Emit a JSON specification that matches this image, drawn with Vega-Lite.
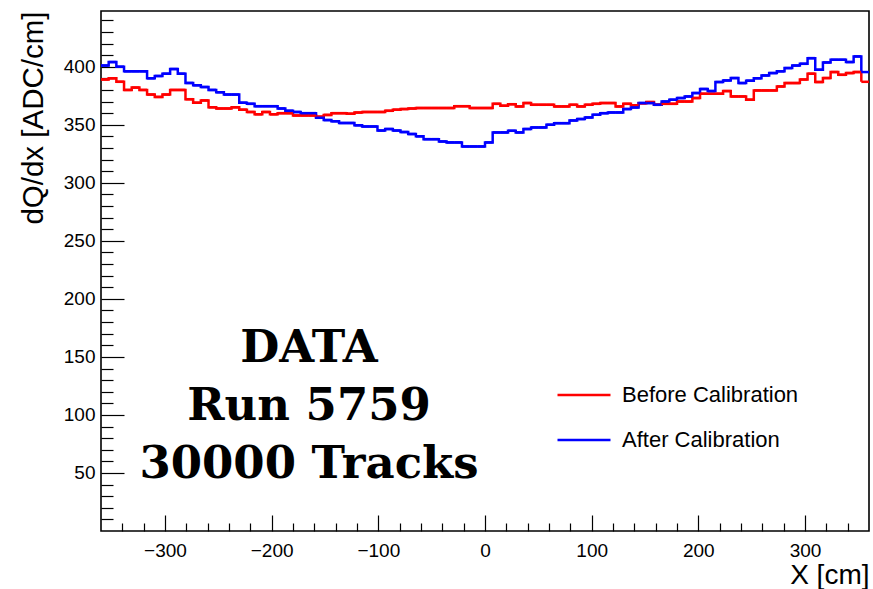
{
  "$schema": "https://vega.github.io/schema/vega-lite/v6.json",
  "width": 768,
  "height": 520,
  "autosize": {"type": "none"},
  "padding": {"left": 101, "top": 11, "right": 4, "bottom": 58},
  "background": "#ffffff",
  "data": {
    "values": [
      {"lo": -360, "hi": -352.8, "before": 389, "after": 401},
      {"lo": -352.8, "hi": -345.6, "before": 390, "after": 404},
      {"lo": -345.6, "hi": -338.4, "before": 387, "after": 400},
      {"lo": -338.4, "hi": -331.2, "before": 380, "after": 396},
      {"lo": -331.2, "hi": -324, "before": 382, "after": 396},
      {"lo": -324, "hi": -316.8, "before": 380, "after": 396},
      {"lo": -316.8, "hi": -309.6, "before": 376, "after": 390},
      {"lo": -309.6, "hi": -302.4, "before": 374, "after": 392},
      {"lo": -302.4, "hi": -295.2, "before": 376, "after": 394},
      {"lo": -295.2, "hi": -288, "before": 380, "after": 398},
      {"lo": -288, "hi": -280.8, "before": 380, "after": 394},
      {"lo": -280.8, "hi": -273.6, "before": 372, "after": 386},
      {"lo": -273.6, "hi": -266.4, "before": 369, "after": 384},
      {"lo": -266.4, "hi": -259.2, "before": 371, "after": 382.5},
      {"lo": -259.2, "hi": -252, "before": 365, "after": 380},
      {"lo": -252, "hi": -244.8, "before": 364, "after": 378},
      {"lo": -244.8, "hi": -237.6, "before": 364, "after": 376},
      {"lo": -237.6, "hi": -230.4, "before": 365, "after": 376},
      {"lo": -230.4, "hi": -223.2, "before": 363, "after": 369},
      {"lo": -223.2, "hi": -216, "before": 361, "after": 368},
      {"lo": -216, "hi": -208.8, "before": 359, "after": 366},
      {"lo": -208.8, "hi": -201.6, "before": 361, "after": 366},
      {"lo": -201.6, "hi": -194.4, "before": 359, "after": 366},
      {"lo": -194.4, "hi": -187.2, "before": 360, "after": 364},
      {"lo": -187.2, "hi": -180, "before": 360, "after": 362},
      {"lo": -180, "hi": -172.8, "before": 358, "after": 361},
      {"lo": -172.8, "hi": -165.6, "before": 358, "after": 360},
      {"lo": -165.6, "hi": -158.4, "before": 358, "after": 360},
      {"lo": -158.4, "hi": -151.2, "before": 357, "after": 356},
      {"lo": -151.2, "hi": -144, "before": 358.5, "after": 354},
      {"lo": -144, "hi": -136.8, "before": 360, "after": 353},
      {"lo": -136.8, "hi": -129.6, "before": 360, "after": 351.5},
      {"lo": -129.6, "hi": -122.4, "before": 359.5, "after": 351.5},
      {"lo": -122.4, "hi": -115.2, "before": 360.5, "after": 349.5},
      {"lo": -115.2, "hi": -108, "before": 361, "after": 348.5},
      {"lo": -108, "hi": -100.8, "before": 361, "after": 348.5},
      {"lo": -100.8, "hi": -93.6, "before": 361, "after": 345},
      {"lo": -93.6, "hi": -86.4, "before": 362, "after": 346.3},
      {"lo": -86.4, "hi": -79.2, "before": 363, "after": 345},
      {"lo": -79.2, "hi": -72, "before": 363.5, "after": 343.7},
      {"lo": -72, "hi": -64.8, "before": 364, "after": 342},
      {"lo": -64.8, "hi": -57.6, "before": 364.4, "after": 340},
      {"lo": -57.6, "hi": -50.4, "before": 364.4, "after": 337.6},
      {"lo": -50.4, "hi": -43.2, "before": 364.4, "after": 337.6},
      {"lo": -43.2, "hi": -36, "before": 364.4, "after": 335.6},
      {"lo": -36, "hi": -28.8, "before": 364.4, "after": 334.8},
      {"lo": -28.8, "hi": -21.6, "before": 366, "after": 334.8},
      {"lo": -21.6, "hi": -14.4, "before": 366, "after": 331.3},
      {"lo": -14.4, "hi": -7.2, "before": 364.4, "after": 331.3},
      {"lo": -7.2, "hi": 0, "before": 364.4, "after": 331.3},
      {"lo": 0, "hi": 7.2, "before": 364.4, "after": 334.8},
      {"lo": 7.2, "hi": 14.4, "before": 368, "after": 343.4},
      {"lo": 14.4, "hi": 21.6, "before": 366.4, "after": 343.4},
      {"lo": 21.6, "hi": 28.8, "before": 367.7, "after": 344.8},
      {"lo": 28.8, "hi": 36, "before": 365.8, "after": 343.4},
      {"lo": 36, "hi": 43.2, "before": 368.7, "after": 346.3},
      {"lo": 43.2, "hi": 50.4, "before": 367.2, "after": 347.7},
      {"lo": 50.4, "hi": 57.6, "before": 367.2, "after": 347.7},
      {"lo": 57.6, "hi": 64.8, "before": 367.2, "after": 350},
      {"lo": 64.8, "hi": 72, "before": 365.8, "after": 351.4},
      {"lo": 72, "hi": 79.2, "before": 365.8, "after": 351.4},
      {"lo": 79.2, "hi": 86.4, "before": 367.2, "after": 353.7},
      {"lo": 86.4, "hi": 93.6, "before": 365.8, "after": 354.9},
      {"lo": 93.6, "hi": 100.8, "before": 367.2, "after": 356.3},
      {"lo": 100.8, "hi": 108, "before": 368, "after": 358.6},
      {"lo": 108, "hi": 115.2, "before": 368.7, "after": 360},
      {"lo": 115.2, "hi": 122.4, "before": 368.7, "after": 360.6},
      {"lo": 122.4, "hi": 129.6, "before": 365.8, "after": 360.6},
      {"lo": 129.6, "hi": 136.8, "before": 368, "after": 363.5},
      {"lo": 136.8, "hi": 144, "before": 366.7, "after": 364.9},
      {"lo": 144, "hi": 151.2, "before": 368.5, "after": 368.7},
      {"lo": 151.2, "hi": 158.4, "before": 369.5, "after": 368.7},
      {"lo": 158.4, "hi": 165.6, "before": 367.2, "after": 367.2},
      {"lo": 165.6, "hi": 172.8, "before": 368, "after": 370},
      {"lo": 172.8, "hi": 180, "before": 368, "after": 371.6},
      {"lo": 180, "hi": 187.2, "before": 370, "after": 373},
      {"lo": 187.2, "hi": 194.4, "before": 370, "after": 374.4},
      {"lo": 194.4, "hi": 201.6, "before": 373, "after": 377.3},
      {"lo": 201.6, "hi": 208.8, "before": 376.7, "after": 380.8},
      {"lo": 208.8, "hi": 216, "before": 376.7, "after": 379},
      {"lo": 216, "hi": 223.2, "before": 376.7, "after": 386.8},
      {"lo": 223.2, "hi": 230.4, "before": 379, "after": 388.2},
      {"lo": 230.4, "hi": 237.6, "before": 374.4, "after": 390.2},
      {"lo": 237.6, "hi": 244.8, "before": 374.4, "after": 385.9},
      {"lo": 244.8, "hi": 252, "before": 371.6, "after": 388},
      {"lo": 252, "hi": 259.2, "before": 379.6, "after": 390},
      {"lo": 259.2, "hi": 266.4, "before": 379.6, "after": 392.5},
      {"lo": 266.4, "hi": 273.6, "before": 379.6, "after": 394.5},
      {"lo": 273.6, "hi": 280.8, "before": 383, "after": 396},
      {"lo": 280.8, "hi": 288, "before": 385.9, "after": 398.8},
      {"lo": 288, "hi": 295.2, "before": 385.9, "after": 401},
      {"lo": 295.2, "hi": 302.4, "before": 389, "after": 402.5},
      {"lo": 302.4, "hi": 309.6, "before": 394, "after": 407.4},
      {"lo": 309.6, "hi": 316.8, "before": 386.8, "after": 397.4},
      {"lo": 316.8, "hi": 324, "before": 390.2, "after": 403.7},
      {"lo": 324, "hi": 331.2, "before": 395.4, "after": 406},
      {"lo": 331.2, "hi": 338.4, "before": 393, "after": 406},
      {"lo": 338.4, "hi": 345.6, "before": 394.5, "after": 404},
      {"lo": 345.6, "hi": 352.8, "before": 395.4, "after": 408.9},
      {"lo": 352.8, "hi": 360, "before": 387, "after": 395.4}
    ]
  },
  "transform": [{"fold": ["before", "after"], "as": ["series", "dqdx"]}],
  "layer": [
    {
      "mark": {"type": "line", "interpolate": "step-after", "strokeWidth": 2.5},
      "encoding": {
        "x": {
          "field": "lo", "type": "quantitative",
          "scale": {"domain": [-360, 360], "nice": false, "zero": false},
          "axis": {
            "orient": "bottom",
            "values": [-300, -200, -100, 0, 100, 200, 300],
            "tickSize": -16,
            "labelPadding": 26,
            "title": "X [cm]",
            "titleAnchor": null,
            "titleAlign": "right",
            "titleBaseline": "alphabetic",
            "titleX": 768,
            "titleY": 52,
            "titleFontSize": 28
          }
        },
        "y": {
          "field": "dqdx", "type": "quantitative",
          "scale": {"domain": [0, 448], "nice": false},
          "axis": {
            "orient": "left",
            "values": [50, 100, 150, 200, 250, 300, 350, 400],
            "tickSize": -23,
            "labelPadding": 29,
            "title": "dQ/dx [ADC/cm]",
            "titleAnchor": null,
            "titleAngle": -90,
            "titleAlign": "right",
            "titleBaseline": "alphabetic",
            "titleX": -59,
            "titleY": 0,
            "titleFontSize": 29.5
          }
        },
        "color": {
          "field": "series", "type": "nominal",
          "scale": {"domain": ["before", "after"], "range": ["#ff0000", "#0000ff"]},
          "legend": {
            "orient": "none",
            "legendX": 455,
            "legendY": 356,
            "title": null,
            "symbolType": "stroke",
            "symbolSize": 2809,
            "symbolStrokeWidth": 2.5,
            "labelOffset": 10,
            "labelFontSize": 22,
            "labelFont": "Liberation Sans",
            "labelColor": "#000",
            "labelLimit": 400,
            "rowPadding": 6,
            "labelExpr": "datum.label == 'before' ? 'Before Calibration' : 'After Calibration'"
          }
        }
      }
    },
    {
      "mark": {"type": "rule", "strokeWidth": 2.5},
      "encoding": {
        "x": {
          "field": "lo", "type": "quantitative",
          "axis": {
            "orient": "bottom",
            "values": [-340, -320, -280, -260, -240, -220, -180, -160, -140, -120, -80, -60, -40, -20, 20, 40, 60, 80, 120, 140, 160, 180, 220, 240, 260, 280, 320, 340],
            "tickSize": -8,
            "labels": false,
            "title": null
          }
        },
        "x2": {"field": "hi"},
        "y": {
          "field": "dqdx", "type": "quantitative",
          "axis": {
            "orient": "left",
            "values": [10, 20, 30, 40, 60, 70, 80, 90, 110, 120, 130, 140, 160, 170, 180, 190, 210, 220, 230, 240, 260, 270, 280, 290, 310, 320, 330, 340, 360, 370, 380, 390, 410, 420, 430, 440],
            "tickSize": -12,
            "labels": false,
            "title": null
          }
        },
        "color": {"field": "series", "type": "nominal"}
      }
    },
    {
      "data": {"values": [{}]},
      "mark": {
        "type": "text",
        "font": "DejaVu Serif",
        "fontWeight": "bold",
        "fontSize": 45,
        "align": "center",
        "baseline": "alphabetic",
        "lineHeight": 58,
        "color": "#000000"
      },
      "encoding": {
        "x": {"datum": -165, "type": "quantitative", "axis": null},
        "y": {"datum": 146, "type": "quantitative", "axis": null},
        "text": {"value": ["DATA", "Run 5759", "30000 Tracks"]}
      }
    }
  ],
  "resolve": {"axis": {"x": "independent", "y": "independent"}},
  "config": {
    "font": "Liberation Sans",
    "view": {"stroke": "#000000", "strokeWidth": 1.6},
    "axis": {
      "grid": false,
      "domain": false,
      "tickColor": "#000000",
      "tickWidth": 1.2,
      "labelColor": "#000000",
      "titleColor": "#000000",
      "labelFont": "Liberation Sans",
      "titleFont": "Liberation Sans",
      "labelFontSize": 19,
      "titleFontSize": 26,
      "titleFontWeight": "normal"
    }
  }
}
